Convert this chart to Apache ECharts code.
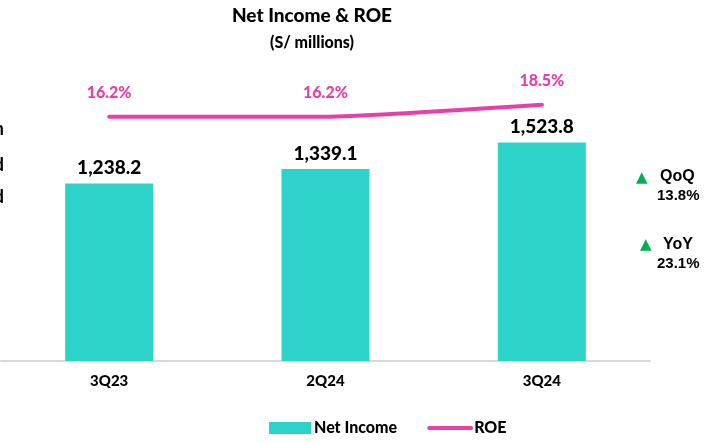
<!DOCTYPE html>
<html>
<head>
<meta charset="utf-8">
<script src="https://cdn.jsdelivr.net/npm/echarts@6/dist/echarts.min.js"></script>
<style>
  html, body { margin: 0; padding: 0; background: #fff; }
  #chart { width: 715px; height: 443px; }
</style>
</head>
<body>
<div id="chart"></div>
<script>
// data
const quarters = ['3Q23', '2Q24', '3Q24']
const netIncome = [1238.2, 1339.1, 1523.8]
const roe = [16.2, 16.2, 18.5]
const qoq = '13.8%'
const yoy = '23.1%'

const teal = '#2DD3C9'
const pink = '#E93FA8'
const green = '#00B050'
const font = 'Lato, "Open Sans", sans-serif'
const arial = '"Liberation Sans", Arial, sans-serif'

const chart = echarts.init(document.getElementById('chart'))

const option = {
  animation: false,
  grid: { left: 1, right: 65, top: 60, bottom: 82 },
  graphic: [
    { type: 'text', x: 312, y: 6, style: { text: 'Net Income & ROE', font: '900 19px ' + font, fill: '#000', textAlign: 'center' } },
    { type: 'text', x: 312, y: 35, style: { text: '(S/ millions)', font: '900 16px ' + font, fill: '#000', textAlign: 'center' } },
    // cut-off text at the left edge
    { type: 'text', x: 4, y: 120, style: { text: 'n', font: 'bold 18px ' + font, fill: '#000', textAlign: 'right' } },
    { type: 'text', x: 4, y: 156, style: { text: 'd', font: 'bold 18px ' + font, fill: '#000', textAlign: 'right' } },
    { type: 'text', x: 4, y: 188, style: { text: 'd', font: 'bold 18px ' + font, fill: '#000', textAlign: 'right' } },
    // QoQ / YoY notes
    { type: 'text', x: 636, y: 171, style: { text: '▲', font: '15px "DejaVu Sans", sans-serif', fill: green } },
    { type: 'text', x: 660, y: 169, style: { text: 'QoQ', font: 'bold 16px ' + arial, fill: '#000' } },
    { type: 'text', x: 657, y: 188, style: { text: qoq, font: 'bold 15px ' + arial, fill: '#000' } },
    { type: 'text', x: 640, y: 238, style: { text: '▲', font: '15px "DejaVu Sans", sans-serif', fill: green } },
    { type: 'text', x: 663, y: 237, style: { text: 'YoY', font: 'bold 16px ' + arial, fill: '#000' } },
    { type: 'text', x: 657, y: 256, style: { text: yoy, font: 'bold 15px ' + arial, fill: '#000' } }
  ],
  legend: {
    bottom: 2,
    left: 264,
    itemWidth: 42,
    itemHeight: 12,
    itemGap: 30,
    textStyle: { fontFamily: font, fontWeight: 900, fontSize: 16, color: '#000', padding: [0, 0, 0, -2] },
    data: [
      { name: 'Net Income', icon: 'rect' },
      { name: 'ROE', itemStyle: { opacity: 0 }, lineStyle: { width: 4, cap: 'round', color: pink } }
    ]
  },
  xAxis: {
    type: 'category',
    data: quarters,
    axisLine: { lineStyle: { color: '#D9D9D9', width: 2 } },
    axisTick: { show: false },
    axisLabel: { fontFamily: font, fontWeight: 900, fontSize: 15, color: '#000', margin: 13 }
  },
  yAxis: [
    { type: 'value', min: 0, max: 2100, show: false, splitLine: { show: false } },
    { type: 'value', min: -30.6, max: 27.1, show: false, splitLine: { show: false } }
  ],
  series: [
    {
      name: 'Net Income',
      type: 'bar',
      data: netIncome,
      barWidth: 88,
      itemStyle: { color: teal },
      label: {
        show: true,
        position: 'top',
        distance: 6,
        fontFamily: font,
        fontWeight: 900,
        fontSize: 19,
        color: '#000',
        formatter: p => p.value.toLocaleString('en-US', { minimumFractionDigits: 1, maximumFractionDigits: 1 })
      }
    },
    {
      name: 'ROE',
      type: 'line',
      yAxisIndex: 1,
      data: roe,
      symbol: 'circle',
      symbolSize: 0.5,
      showSymbol: true,
      smooth: 0.15,
      lineStyle: { color: pink, width: 4, cap: 'round' },
      itemStyle: { color: pink },
      label: {
        show: true,
        position: 'top',
        distance: 16,
        fontFamily: font,
        fontWeight: 900,
        fontSize: 16,
        color: pink,
        formatter: p => p.value.toFixed(1) + '%'
      }
    }
  ]
}

chart.setOption(option)
</script>
</body>
</html>
